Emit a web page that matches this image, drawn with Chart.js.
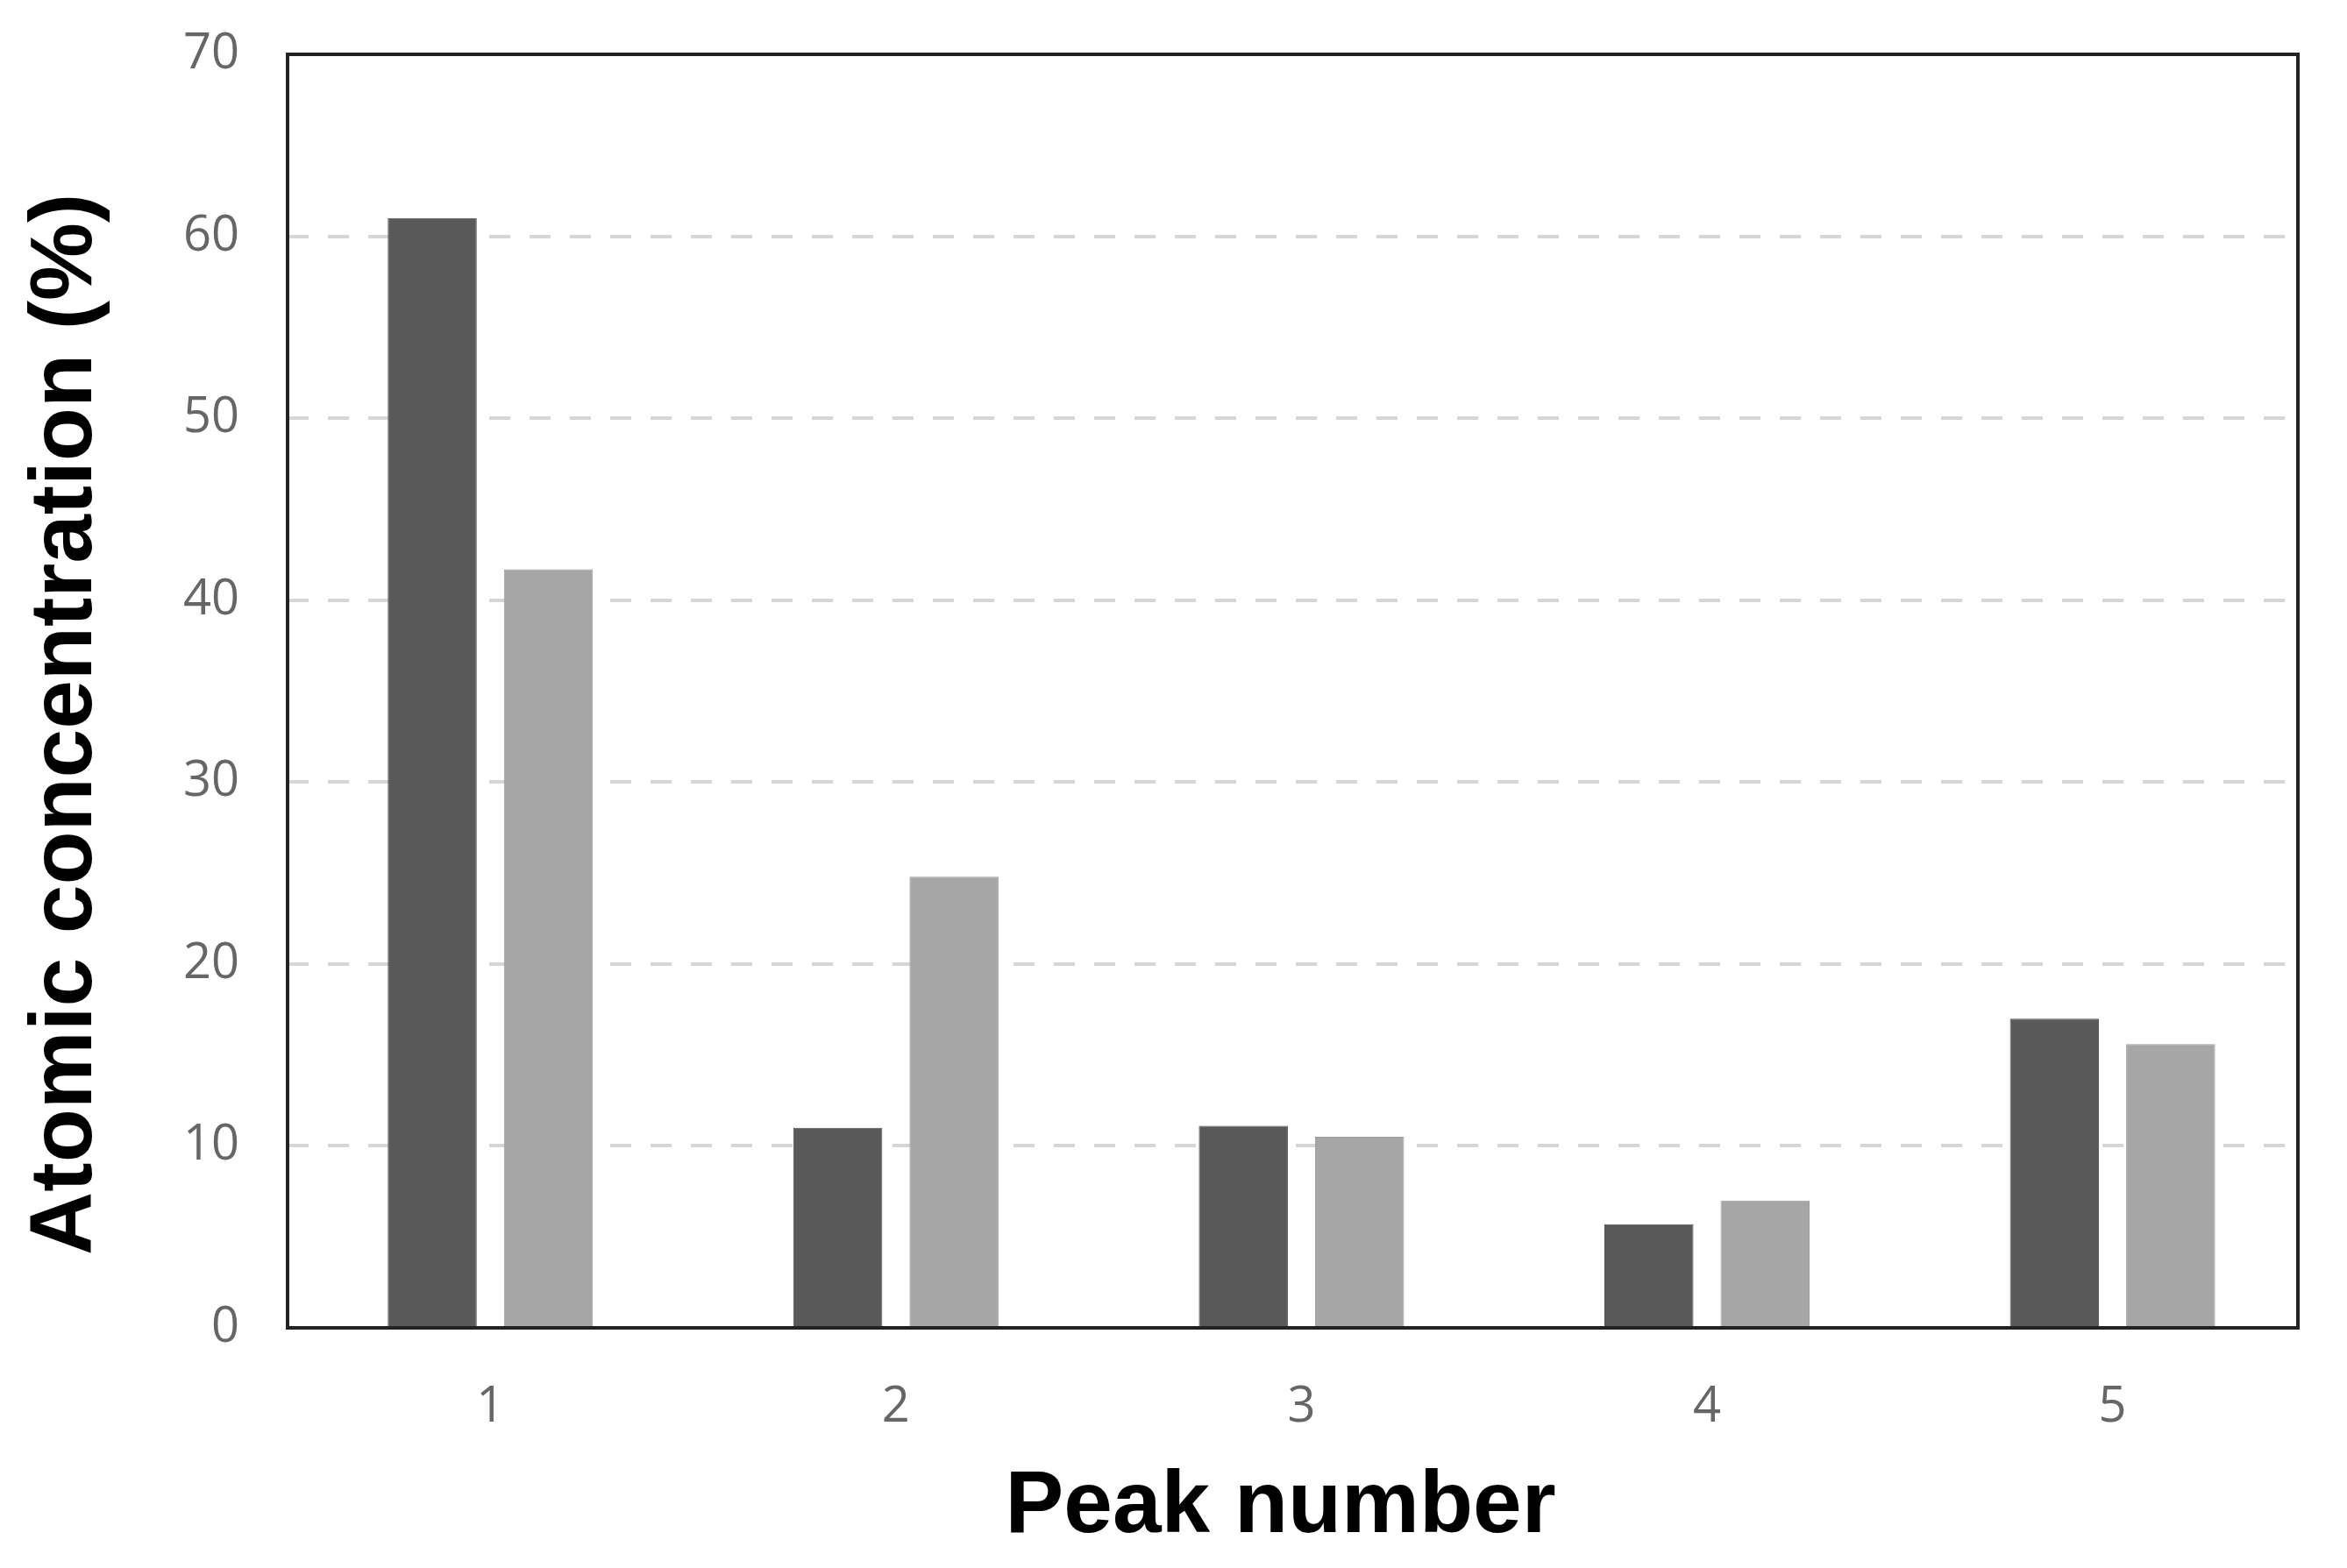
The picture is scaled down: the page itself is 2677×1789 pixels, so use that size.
<!DOCTYPE html>
<html>
<head>
<meta charset="utf-8">
<script src="https://cdn.jsdelivr.net/npm/chart.js@4.4.0/dist/chart.umd.min.js"></script>
<style>
  html, body { margin: 0; padding: 0; background: #fff; }
  #wrap { width: 2677px; height: 1789px; }
</style>
</head>
<body>
<div id="wrap"><canvas id="chart" width="2677" height="1789"></canvas></div>
<script>
const peaks = [1, 2, 3, 4, 5];
const darkSeries = [61.0, 11.0, 11.1, 5.7, 17.0];
const lightSeries = [41.7, 24.8, 10.5, 7.0, 15.6];
const yTicks = [0, 10, 20, 30, 40, 50, 60, 70];

const tickFont = { family: "'Open Sans', 'Noto Sans', sans-serif", size: 56 };
const titleFont = { family: "'Liberation Sans', Arial, sans-serif", size: 100, weight: "bold" };

// box around the plot area
const frame = {
  id: "frame",
  afterDraw(chart) {
    const { ctx, chartArea: a } = chart;
    ctx.save();
    ctx.strokeStyle = "#222";
    ctx.lineWidth = 4;
    ctx.strokeRect(a.left, a.top, a.right - a.left, a.bottom - a.top);
    ctx.restore();
  },
};

const toPoints = (vals) => vals.map((v, i) => ({ x: peaks[i], y: v }));

new Chart(document.getElementById("chart"), {
  type: "bar",
  data: {
    datasets: [
      {
        data: toPoints(darkSeries),
        backgroundColor: "#595959",
        borderColor: "#4f4f4f",
        borderWidth: 1,
        categoryPercentage: 0.573,
        barPercentage: 0.766,
      },
      {
        data: toPoints(lightSeries),
        backgroundColor: "#a6a6a6",
        borderColor: "#9c9c9c",
        borderWidth: 1,
        categoryPercentage: 0.573,
        barPercentage: 0.766,
      },
    ],
  },
  options: {
    responsive: false,
    animation: false,
    devicePixelRatio: 1,
    layout: { padding: { top: 62, right: 56, left: 0, bottom: 0 } },
    plugins: { legend: { display: false }, tooltip: { enabled: false } },
    scales: {
      x: {
        type: "linear",
        offset: false,
        min: 0.5,
        max: 5.457,
        afterBuildTicks(scale) {
          scale.ticks = peaks.map((v) => ({ value: v }));
        },
        grid: { display: false },
        border: { display: false },
        ticks: { color: "#666", font: tickFont, padding: 49 },
        title: {
          display: true,
          text: "Peak number ",
          color: "#000",
          font: titleFont,
          padding: { top: 0, bottom: 9 },
        },
        afterFit(scale) {
          scale.height = 274;
          scale.paddingLeft = 0;
          scale.paddingRight = 0;
        },
      },
      y: {
        min: 0,
        max: 70,
        afterBuildTicks(scale) {
          scale.ticks = yTicks.map((v) => ({ value: v }));
        },
        grid: {
          color: (c) => (c.tick && (c.tick.value === 0 || c.tick.value === 70) ? "rgba(0,0,0,0)" : "#d6d6d6"),
          lineWidth: 4,
          drawTicks: false,
        },
        border: { display: false, dash: [24, 22] },
        ticks: { color: "#666", font: tickFont, padding: 55 },
        title: {
          display: true,
          text: "Atomic concentration (%)  \u2009",
          color: "#000",
          font: titleFont,
          padding: { top: 16, bottom: 0 },
        },
        afterFit(scale) {
          scale.width = 328;
          scale.paddingTop = 0;
          scale.paddingBottom = 0;
        },
      },
    },
  },
  plugins: [frame],
});
</script>
</body>
</html>
